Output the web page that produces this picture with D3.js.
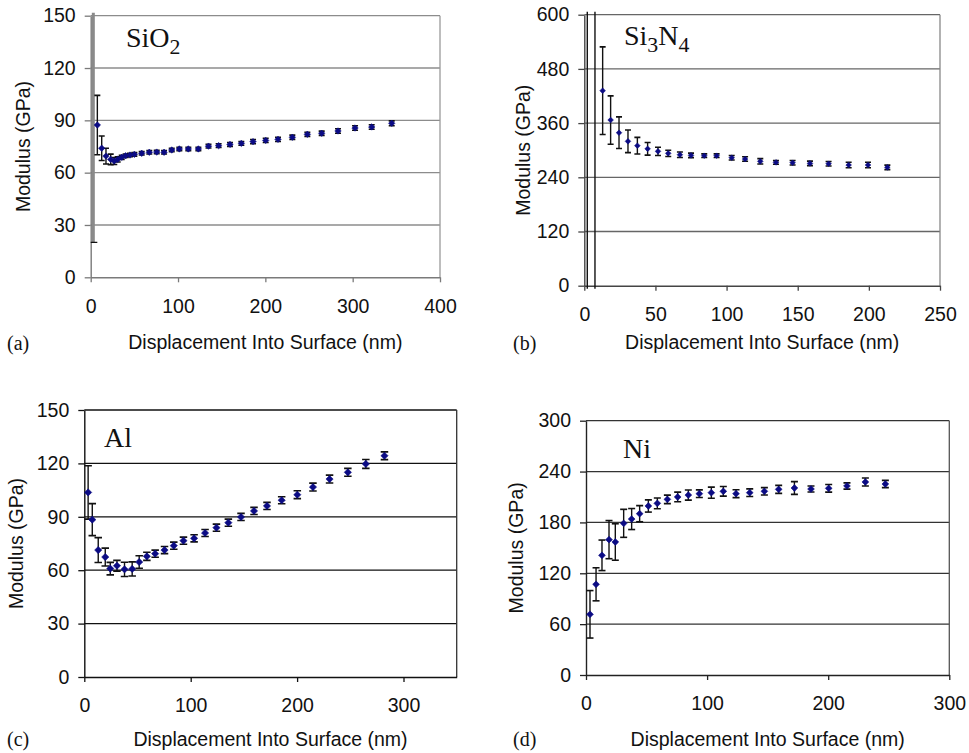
<!DOCTYPE html>
<html>
<head>
<meta charset="utf-8">
<script src="https://cdn.jsdelivr.net/npm/d3@7"></script>
<style>
  html, body { margin: 0; padding: 0; background: #fff; }
  svg { display: block; }
</style>
</head>
<body>
<script>
// ---------------- DATA ----------------
// (a) SiO2
const sio2Depth   = [7.6, 12.6, 17.5, 22.9, 27, 30.9, 35.5, 40, 45, 50, 58.4, 67.1, 75.6, 84, 92.8, 101.5, 111.8, 123.3, 134.9, 146.5, 159.5, 172.5, 185.9, 200.4, 214.5, 230.9, 248.1, 264.5, 283.2, 302.7, 321.8, 344.7];
const sio2Modulus = [87.3, 74, 69.5, 67.6, 66.7, 67.6, 68.8, 69.7, 70.1, 70.5, 71.1, 71.7, 71.8, 71.7, 73, 73.6, 73.6, 73.6, 75.2, 75.5, 76.2, 76.8, 77.8, 78.5, 79.1, 80.3, 82, 82.6, 83.9, 85.6, 86.2, 88.3];
const sio2Err     = [17, 7, 4.5, 3, 2, 1.5, 1.2, 1, 1, 1, 1, 1, 1, 1, 1, 1, 1, 1, 1.1, 1.1, 1.1, 1.1, 1.2, 1.2, 1.2, 1.2, 1.2, 1.2, 1.3, 1.3, 1.3, 1.4];
const sio2SpikeDepth = [3];
const sio2SpikeLow   = [20];
const sio2SpikeHigh  = [200];

// (b) Si3N4
const si3n4Depth   = [12.9, 18.5, 24.4, 30.7, 37.3, 44.5, 51.8, 59, 67.2, 75, 84.3, 93, 103.6, 113, 123.7, 134.7, 146.4, 158.6, 171.7, 185.8, 199.4, 213];
const si3n4Modulus = [431.7, 366.8, 338.7, 319.6, 310, 303, 297.4, 293, 290, 288.6, 287.8, 287.8, 283.4, 280.4, 275.3, 273, 272.3, 270.8, 270.1, 267.2, 267.2, 262];
const si3n4Err     = [97, 53.5, 35, 25, 18.5, 14, 9, 7, 6, 5, 4, 4, 5, 5, 6, 4, 5, 5, 5, 6, 6, 5];
const si3n4SpikeDepth = [2.1, 7.5];
const si3n4SpikeLow   = [-100, -100];
const si3n4SpikeHigh  = [800, 800];

// (c) Al
const alDepth   = [3.6, 7.5, 13.1, 19.7, 24.4, 30.7, 37.8, 45, 51.6, 58.8, 66.6, 75.4, 84.1, 93.2, 103.2, 113.5, 124.2, 135.4, 147.3, 159.5, 171.7, 185.5, 200.2, 214.9, 230.5, 247.7, 264.6, 282.1];
const alModulus = [103.7, 88.4, 71.3, 67.4, 60.9, 62.5, 60.5, 60.7, 64.6, 67.8, 69.3, 71.3, 73.8, 76.6, 77.9, 80.9, 83.9, 86.7, 89.9, 93.3, 96.1, 99.3, 102.4, 106.7, 111.2, 115, 119.7, 124.3];
const alErr     = [15, 9, 7, 5, 3.5, 3, 4, 4, 3.5, 2.3, 2, 2, 2, 2, 2, 2, 2, 2, 2, 2, 2, 2, 2.2, 2.2, 2.2, 2.2, 2.5, 2.2];

// (d) Ni
const niDepth   = [3.3, 8.3, 13.2, 19, 24.2, 31.1, 37.7, 44.3, 51.5, 58.9, 67.2, 75.7, 84.5, 93.6, 103.5, 113.4, 123.9, 135.2, 147.3, 159.1, 172.1, 185.8, 200.4, 215.5, 230.7, 247.2];
const niModulus = [71.6, 107, 141.2, 159.7, 156.9, 178.9, 184, 190.3, 199.4, 202.5, 207.2, 210, 212.3, 213.9, 215.1, 216.7, 213.9, 215.1, 216.7, 219, 220.6, 219.4, 220.2, 223, 227.7, 225.3];
const niErr     = [28, 19.5, 18, 22.5, 21.5, 16.5, 12.4, 9.5, 7.2, 6.3, 5, 5.7, 6, 4.5, 6.5, 5.7, 4.7, 4.5, 4.4, 4.7, 7.5, 3.5, 4.5, 3.7, 4.7, 4.3];

// Tick values
const sio2XTicks = [0, 100, 200, 300, 400];
const sio2YTicks = [0, 30, 60, 90, 120, 150];
const si3n4XTicks = [0, 50, 100, 150, 200, 250];
const si3n4YTicks = [0, 120, 240, 360, 480, 600];
const alXTicks = [0, 100, 200, 300];
const alYTicks = [0, 30, 60, 90, 120, 150];
const niXTicks = [0, 100, 200, 300];
const niYTicks = [0, 60, 120, 180, 240, 300];

const xTitle = "Displacement Into Surface (nm)";
const yTitle = "Modulus (GPa)";

// ---------------- DRAWING ----------------
const W = 969, H = 753;
const svg = d3.select("body").append("svg").attr("width", W).attr("height", H);
svg.append("rect").attr("width", W).attr("height", H).attr("fill", "#fff");

const SANS = "'Liberation Sans', Arial, sans-serif";
const SERIF = "'Liberation Serif', 'Times New Roman', serif";
const FS = 19.5;

function rows(depth, mod, err) {
  return depth.map((d, i) => ({ x: d, y: mod[i], e: err[i] }));
}
function spikes(depth, lo, hi) {
  return depth.map((d, i) => ({ x: d, lo: lo[i], hi: hi[i] }));
}

const panels = [
  { id: "a", left: 90.7, right: 440, top: 15.7, bottom: 277.3,
    xDomain: [0, 400], yDomain: [0, 150], xTicks: sio2XTicks, yTicks: sio2YTicks,
    data: rows(sio2Depth, sio2Modulus, sio2Err), spikes: spikes(sio2SpikeDepth, sio2SpikeLow, sio2SpikeHigh),
    spikeColor: "#8a8a8a", spikeWidth: 3,
    grid: "#8c8c8c", axis: "#7a7a7a", border: "#9a9a9a",
    title: [["SiO", 0], ["2", 1]], titleX: 126, titleY: 46.5, titleFS: 28,
    label: "(a)", labelX: 7, labelY: 350,
    xTitleY: 349, yTitleX: 23.5, capW: 6, mr: 3.2 },
  { id: "b", left: 584.3, right: 940, top: 14.7, bottom: 285.7,
    xDomain: [0, 250], yDomain: [0, 600], xTicks: si3n4XTicks, yTicks: si3n4YTicks,
    data: rows(si3n4Depth, si3n4Modulus, si3n4Err), spikes: spikes(si3n4SpikeDepth, si3n4SpikeLow, si3n4SpikeHigh),
    spikeColor: "#111", spikeWidth: 1.4,
    grid: "#666", axis: "#444", border: "#888",
    title: [["Si", 0], ["3", 1], ["N", 0], ["4", 1]], titleX: 624, titleY: 45, titleFS: 28,
    label: "(b)", labelX: 513, labelY: 350,
    xTitleY: 349, yTitleX: 523, capW: 6, mr: 2.8 },
  { id: "c", left: 84.3, right: 456.7, top: 410, bottom: 677,
    xDomain: [0, 350], yDomain: [0, 150], xTicks: alXTicks, yTicks: alYTicks,
    data: rows(alDepth, alModulus, alErr), spikes: [],
    grid: "#111", axis: "#111", border: "#333",
    title: [["Al", 0]], titleX: 104, titleY: 446.5, titleFS: 28,
    label: "(c)", labelX: 7, labelY: 745.5,
    xTitleY: 745.5, yTitleX: 16, capW: 7.5, mr: 3.6 },
  { id: "d", left: 586, right: 949.3, top: 420.7, bottom: 675,
    xDomain: [0, 300], yDomain: [0, 300], xTicks: niXTicks, yTicks: niYTicks,
    data: rows(niDepth, niModulus, niErr), spikes: [],
    grid: "#333", axis: "#222", border: "#555",
    title: [["Ni", 0]], titleX: 623, titleY: 457.5, titleFS: 28,
    label: "(d)", labelX: 513, labelY: 746,
    xTitleY: 746, yTitleX: 516, capW: 7, mr: 3.4 }
];

function drawPanel(p) {
  const x = d3.scaleLinear().domain(p.xDomain).range([p.left, p.right]);
  const y = d3.scaleLinear().domain(p.yDomain).range([p.bottom, p.top]);
  const g = svg.append("g").attr("class", "panel-" + p.id);

  // gridlines
  g.selectAll("line.grid").data(p.yTicks.filter(t => t !== 0)).join("line")
    .attr("class", "grid")
    .attr("x1", p.left).attr("x2", p.right)
    .attr("y1", d => y(d)).attr("y2", d => y(d))
    .attr("stroke", p.grid).attr("stroke-width", 1.3);

  // right border
  g.append("line")
    .attr("x1", p.right).attr("x2", p.right)
    .attr("y1", p.top).attr("y2", p.bottom)
    .attr("stroke", p.border).attr("stroke-width", 1.3);

  // axes
  const yAxis = g.append("g").attr("transform", `translate(${p.left},0)`)
    .call(d3.axisLeft(y).tickValues(p.yTicks).tickSize(6).tickSizeOuter(0).tickPadding(9).tickFormat(d3.format("d")));
  const xAxis = g.append("g").attr("transform", `translate(0,${p.bottom})`)
    .call(d3.axisBottom(x).tickValues(p.xTicks).tickSize(5).tickSizeOuter(0).tickPadding(16.5).tickFormat(d3.format("d")));
  [yAxis, xAxis].forEach(ax => {
    ax.select(".domain").attr("stroke", p.axis).attr("stroke-width", 1.4);
    ax.selectAll(".tick line").attr("stroke", p.axis).attr("stroke-width", 1.3);
    ax.selectAll(".tick text").attr("fill", "#111")
      .style("font-family", SANS).style("font-size", FS + "px");
  });

  // clip for error bars
  const clipId = "clip-" + p.id;
  svg.append("clipPath").attr("id", clipId).append("rect")
    .attr("x", p.left).attr("y", p.top - 3)
    .attr("width", p.right - p.left).attr("height", p.bottom - p.top + 6);
  const eg = g.append("g").attr("clip-path", `url(#${clipId})`);

  // spike error bars (huge first-point bars)
  p.spikes.forEach(s => {
    eg.append("line")
      .attr("x1", x(s.x)).attr("x2", x(s.x))
      .attr("y1", y(s.lo)).attr("y2", y(s.hi))
      .attr("stroke", p.spikeColor).attr("stroke-width", p.spikeWidth);
    [s.lo, s.hi].forEach(v => {
      if (v >= p.yDomain[0] && v <= p.yDomain[1]) {
        eg.append("line")
          .attr("x1", x(s.x) - 4).attr("x2", x(s.x) + 4)
          .attr("y1", y(v)).attr("y2", y(v))
          .attr("stroke", "#111").attr("stroke-width", 1.4);
      }
    });
  });

  // error bars
  const bars = eg.selectAll("g.eb").data(p.data).join("g").attr("class", "eb");
  bars.append("line")
    .attr("x1", d => x(d.x)).attr("x2", d => x(d.x))
    .attr("y1", d => y(d.y - d.e)).attr("y2", d => y(d.y + d.e))
    .attr("stroke", "#111").attr("stroke-width", 1.4);
  [-1, 1].forEach(sgn => {
    bars.append("line")
      .attr("x1", d => x(d.x) - p.capW / 2).attr("x2", d => x(d.x) + p.capW / 2)
      .attr("y1", d => y(d.y + sgn * d.e)).attr("y2", d => y(d.y + sgn * d.e))
      .attr("stroke", "#111").attr("stroke-width", 1.6);
  });

  // markers (diamonds)
  const r = p.mr;
  g.selectAll("path.pt").data(p.data).join("path")
    .attr("class", "pt")
    .attr("d", `M0,${-r}L${r},0L0,${r}L${-r},0Z`)
    .attr("transform", d => `translate(${x(d.x)},${y(d.y)})`)
    .attr("fill", "#0b0b84").attr("stroke", "#0b0b84").attr("stroke-width", 0.6);

  // title (chemical formula)
  const t = g.append("text")
    .attr("x", p.titleX).attr("y", p.titleY)
    .style("font-family", SERIF).style("font-size", p.titleFS + "px").attr("fill", "#111");
  let sub = false;
  p.title.forEach(([txt, isSub]) => {
    const ts = t.append("tspan").text(txt);
    if (isSub && !sub) { ts.attr("dy", 7).style("font-size", (p.titleFS * 0.78) + "px"); sub = true; }
    else if (!isSub && sub) { ts.attr("dy", -7); sub = false; }
    else if (isSub) { ts.style("font-size", (p.titleFS * 0.78) + "px"); }
  });

  // panel label
  g.append("text").attr("x", p.labelX).attr("y", p.labelY)
    .style("font-family", SERIF).style("font-size", "20px").attr("fill", "#111")
    .text(p.label);

  // axis titles
  g.append("text")
    .attr("x", (p.left + p.right) / 2).attr("y", p.xTitleY)
    .attr("text-anchor", "middle")
    .style("font-family", SANS).style("font-size", FS + "px").attr("fill", "#111")
    .text(xTitle);
  g.append("text")
    .attr("transform", `translate(${p.yTitleX},${(p.top + p.bottom) / 2}) rotate(-90)`)
    .attr("text-anchor", "middle").attr("dy", "0.35em")
    .style("font-family", SANS).style("font-size", FS + "px").attr("fill", "#111")
    .text(yTitle);
}

panels.forEach(drawPanel);
</script>
</body>
</html>
